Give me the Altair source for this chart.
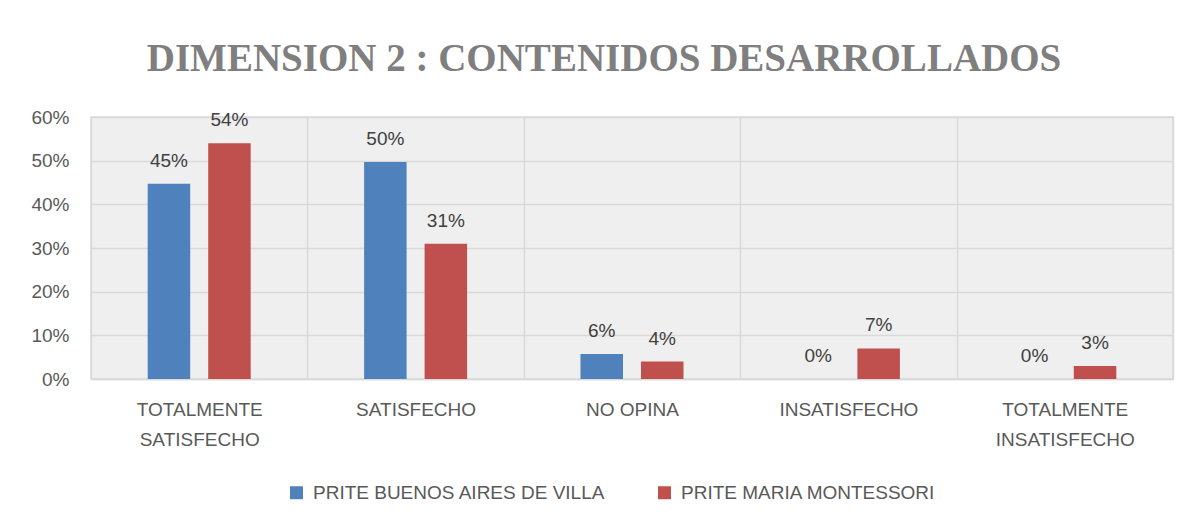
import altair as alt
import pandas as pd

categories = ["TOTALMENTE SATISFECHO", "SATISFECHO", "NO OPINA", "INSATISFECHO", "TOTALMENTE INSATISFECHO"]
series = ["PRITE BUENOS AIRES DE VILLA", "PRITE MARIA MONTESSORI"]
buenos_aires = [0.447, 0.497, 0.057, 0.0, 0.0]
montessori = [0.54, 0.31, 0.04, 0.07, 0.03]
colors = ["#4f81bd", "#c0504d"]
y_ticks = [0, 0.1, 0.2, 0.3, 0.4, 0.5, 0.6]

rows = []
for c, v in zip(categories, buenos_aires):
    rows.append({"categoria": c, "serie": series[0], "valor": v})
for c, v in zip(categories, montessori):
    rows.append({"categoria": c, "serie": series[1], "valor": v})
df = pd.DataFrame(rows)

FONT = "Liberation Sans"
TEXT = "#595959"

x_enc = alt.X(
    "categoria:N",
    sort=categories,
    scale=alt.Scale(paddingInner=0, paddingOuter=0),
    axis=alt.Axis(
        title=None,
        labelAngle=0,
        labelFont=FONT,
        labelFontSize=19,
        labelColor=TEXT,
        labelPadding=21,
        labelLineHeight=30,
        labelBaseline="top",
        labelExpr="indexof(datum.label, 'TOTALMENTE') == 0 ? split(datum.label, ' ') : datum.label",
        ticks=False,
        grid=True,
        tickBand="extent",
        gridColor="#d9d9d9",
        gridWidth=1.5,
        domainColor="#d9d9d9",
        domainWidth=1.5,
    ),
)
xoff = alt.XOffset(
    "serie:N",
    sort=series,
    scale=alt.Scale(paddingInner=0.2975, paddingOuter=0.937),
)
y_enc = alt.Y(
    "valor:Q",
    scale=alt.Scale(domain=[0, 0.6], nice=False),
    axis=alt.Axis(
        title=None,
        values=y_ticks,
        format=".0%",
        labelFont=FONT,
        labelFontSize=19,
        labelColor=TEXT,
        labelPadding=22,
        ticks=False,
        domain=False,
        gridColor="#d9d9d9",
        gridWidth=1.5,
    ),
)
color_enc = alt.Color(
    "serie:N",
    sort=series,
    scale=alt.Scale(domain=series, range=colors),
    legend=alt.Legend(
        title=None,
        orient="none",
        legendX=196,
        legendY=366,
        direction="horizontal",
        symbolType="square",
        symbolSize=169,
        symbolStrokeWidth=0,
        labelFont=FONT,
        labelFontSize=19,
        labelColor=TEXT,
        labelOffset=7,
        columnPadding=49,
        labelLimit=400,
    ),
)

bars = alt.Chart(df).mark_bar().encode(x=x_enc, xOffset=xoff, y=y_enc, color=color_enc)
labels = alt.Chart(df).mark_text(
    font=FONT, fontSize=19, color="#404040", baseline="alphabetic", dy=-17
).encode(
    x=alt.X("categoria:N", sort=categories),
    xOffset=xoff,
    y="valor:Q",
    text=alt.Text("valor:Q", format=".0%"),
)

chart = (
    alt.layer(bars, labels)
    .properties(
        width=1082,
        height=262,
        autosize=alt.AutoSizeParams(type="none"),
        padding={"left": 83, "top": 109, "right": 10, "bottom": 135},
        title=alt.TitleParams(
            "DIMENSION 2 : CONTENIDOS DESARROLLADOS",
            font="Liberation Serif",
            fontSize=39,
            fontWeight="bold",
            color="#7f7f7f",
            anchor="middle",
            dx=-28,
            offset=29,
        ),
    )
    .configure_view(fill="#efefef", stroke="#d9d9d9", strokeWidth=1.5)
)

chart.save("out.html", embed_options={"renderer": "svg", "actions": False})
